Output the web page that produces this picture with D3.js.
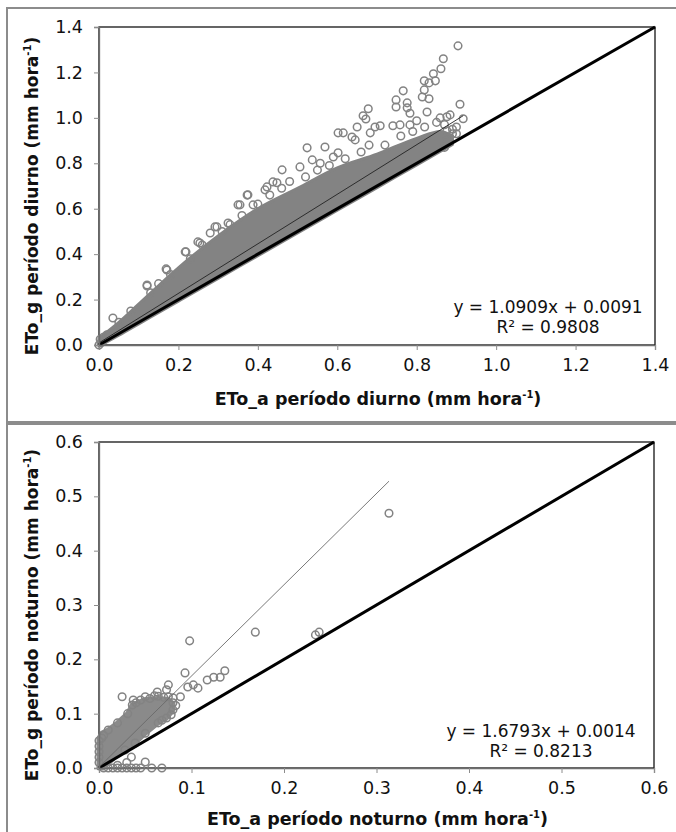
<!DOCTYPE html>
<html>
<head>
<meta charset="utf-8">
<script src="https://cdn.jsdelivr.net/npm/d3@7"></script>
<style>
  html, body { margin: 0; padding: 0; background: #fff; }
  svg { display: block; font-family: "DejaVu Sans", Verdana, sans-serif; }
</style>
</head>
<body>
<svg width="676" height="832"></svg>
<script>
// --- data ---
const dayTicks = [0, 0.2, 0.4, 0.6, 0.8, 1.0, 1.2, 1.4];
const nightTicks = [0, 0.1, 0.2, 0.3, 0.4, 0.5, 0.6];

// dense part of the day cloud (solid grey band)
const dayBandX    = [0,    0.05, 0.1,  0.2,  0.3,  0.4,  0.5,  0.6,  0.7,  0.8,  0.86, 0.89];
const dayBandLow  = [-0.005,0.043,0.093,0.193,0.293,0.393,0.493,0.593,0.693,0.793,0.853,0.883];
const dayBandHigh = [0.03, 0.10, 0.18, 0.34, 0.48, 0.60, 0.69, 0.78, 0.84, 0.91, 0.94, 0.92];

// single circles seen on the edge of / outside the day band
const dayPtsX = [0.904,0.867,0.861,0.842,0.847,0.819,0.831,0.819,0.814,0.831,0.766,0.748,0.748,0.776,0.776,
  0.678,0.665,0.672,0.65,0.615,0.602,0.909,0.917,0.876,0.884,0.826,0.783,0.80,0.708,0.695,0.74,0.758,0.783,
  0.645,0.637,0.683,0.859,0.524,0.569,0.602,0.461,0.506,0.537,0.557,0.373,0.438,0.423,0.59,0.355,0.388,
  0.28,0.297,0.254,0.217,0.171,0.121,0.035,0.375,0.35,0.325,0.292,0.249,0.219,0.169,0.121,0.418,0.448,
  0.876,0.876,0.9,0.89,0.88,0,0.005,0.01,0.003,0.012,0.02,
  0.05,0.08,0.13,0.15,0.18,0.23,0.26,0.31,0.33,0.36,0.40,0.43,0.46,0.48,0.52,0.55,0.58,0.62,0.66,0.68,
  0.72,0.76,0.79,0.82,0.85,0.87,0.89,0.90, 0.87];
const dayPtsY = [1.317,1.26,1.216,1.194,1.163,1.163,1.154,1.123,1.092,1.084,1.119,1.079,1.048,1.066,1.044,
  1.04,1.009,0.995,0.96,0.934,0.846,1.06,0.996,1.005,1.013,1.026,1.02,0.987,0.965,0.96,0.965,0.969,0.969,
  0.903,0.916,0.934,1.0,0.868,0.872,0.934,0.771,0.784,0.815,0.80,0.66,0.718,0.696,0.828,0.617,0.617,
  0.493,0.52,0.449,0.41,0.33,0.264,0.119,0.661,0.617,0.537,0.52,0.454,0.41,0.335,0.26,0.683,0.714,
  0.943,0.903,0.96,0.93,0.90,0,0.01,0.02,0.025,0.035,0.045,
  0.10,0.15,0.23,0.27,0.31,0.38,0.44,0.50,0.53,0.57,0.62,0.66,0.69,0.72,0.74,0.77,0.79,0.82,0.85,0.88,
  0.88,0.92,0.94,0.96,0.98,0.97,0.95,0.93, 0.87];

// dense part of the night cloud (outline of the blob near the origin)
const nightBlobX = [0, 0,     0.003, 0.01, 0.02,  0.031, 0.036, 0.05,  0.064, 0.075, 0.08,  0.08,  0.073, 0.064, 0.05,  0.039, 0.028, 0.017, 0.01,  0.004];
const nightBlobY = [0, 0.055, 0.064, 0.07, 0.083, 0.10,  0.116, 0.126, 0.128, 0.126, 0.118, 0.107, 0.092, 0.083, 0.064, 0.046, 0.033, 0.02,  0.009, 0];

// single circles of the night cloud
const nightPtsX = [0.098,0.169,0.234,0.238,0.093,0.136,0.131,0.124,0.117,0.107,0.102,0.096,0.075,0.025,0.088,
  0.08,0.073,0.063,0.037,0.068,0.035,0.05,0.057,0.068,0.3135,
  0,0,0,0,0,0.003,0.005,0.005,0.01,0.015,0.02,0.025,0.03,0.035,0.04,0.045,0.03,0.02,
  0.01,0.02,0.031,0.036,0.04,0.045,0.05,0.055,0.06,0.064,0.07,0.075,0.08,0.08,0.073,0.064,0.05,0.039,0.028,0.083,0.078];
const nightPtsY = [0.234,0.25,0.245,0.25,0.175,0.179,0.167,0.167,0.162,0.147,0.153,0.149,0.153,0.131,0.131,
  0.129,0.144,0.14,0.125,0.088,0.02,0.011,0,0,0.469,
  0.01,0.02,0.03,0.04,0.05,0.055,0.06,0,0,0,0,0,0,0,0,0,0.01,0.005,
  0.07,0.083,0.10,0.116,0.12,0.125,0.131,0.128,0.133,0.132,0.13,0.131,0.12,0.107,0.092,0.083,0.064,0.046,0.033,0.115,0.098];

const dayFit = [1.0909, 0.0091, 0.9808, 0.917];   // slope, intercept, R², last x
const nightFit = [1.6793, 0.0014, 0.8213, 0.3135];

const svg = d3.select("svg");

// outer panel frames
svg.append("rect").attr("x", 7).attr("y", 8).attr("width", 690).attr("height", 414)
  .attr("fill", "#fff").attr("stroke", "#8c8c8c").attr("stroke-width", 2);
svg.append("rect").attr("x", 7).attr("y", 424).attr("width", 690).attr("height", 430)
  .attr("fill", "#fff").attr("stroke", "#8c8c8c").attr("stroke-width", 2);

function drawPanel(cfg) {
  const x = d3.scaleLinear().domain([0, cfg.max]).range([cfg.left, cfg.right]);
  const y = d3.scaleLinear().domain([0, cfg.max]).range([cfg.bottom, cfg.top]);
  const g = svg.append("g");

  // plot frame
  g.append("rect").attr("x", cfg.left).attr("y", cfg.top)
    .attr("width", cfg.right - cfg.left).attr("height", cfg.bottom - cfg.top)
    .attr("fill", "none").attr("stroke", "#000").attr("stroke-width", 1.2);

  // dense cloud
  if (cfg.band) {
    const rows = cfg.band.x.map((v, i) => ({ x: v, lo: cfg.band.lo[i], hi: cfg.band.hi[i] }));
    g.append("path").datum(rows)
      .attr("d", d3.area().x(d => x(d.x)).y0(d => y(d.lo)).y1(d => y(d.hi)).curve(d3.curveMonotoneX))
      .attr("fill", "#838383").attr("stroke", "#838383").attr("stroke-width", 3).attr("stroke-linejoin", "round");
  }
  if (cfg.blob) {
    const pts = cfg.blob.x.map((v, i) => [x(v), y(cfg.blob.y[i])]);
    g.append("path").attr("d", d3.line().curve(d3.curveLinearClosed)(pts))
      .attr("fill", "#8a8a8a").attr("stroke", "#8a8a8a").attr("stroke-width", 5).attr("stroke-linejoin", "round");
  }

  // single circles
  const pts = cfg.ptsX.map((v, i) => ({ x: v, y: cfg.ptsY[i] }));
  g.append("g").selectAll("circle").data(pts).join("circle")
    .attr("cx", d => x(d.x)).attr("cy", d => y(d.y)).attr("r", 3.8)
    .attr("fill", "none").attr("stroke", "#838383").attr("stroke-width", 1.5);

  // 1:1 line
  g.append("line")
    .attr("x1", x(0)).attr("y1", y(0)).attr("x2", x(cfg.max)).attr("y2", y(cfg.max))
    .attr("stroke", "#000").attr("stroke-width", 3);

  // trend line
  const [a, b, r2, xEnd] = cfg.fit;
  g.append("line")
    .attr("x1", x(0)).attr("y1", y(b)).attr("x2", x(xEnd)).attr("y2", y(a * xEnd + b))
    .attr("stroke", cfg.fitColor).attr("stroke-width", 0.9);

  // axes
  const fmt = d3.format(".1f");
  const xa = g.append("g").attr("transform", `translate(0,${cfg.bottom})`)
    .call(d3.axisBottom(x).tickValues(cfg.ticks).tickFormat(fmt).tickSize(5).tickPadding(9));
  const ya = g.append("g").attr("transform", `translate(${cfg.left},0)`)
    .call(d3.axisLeft(y).tickValues(cfg.ticks).tickFormat(fmt).tickSize(5).tickPadding(11));
  [xa, ya].forEach(ax => {
    ax.select(".domain").attr("stroke", "#6e6e6e").attr("stroke-width", 1.3);
    ax.selectAll(".tick line").attr("stroke", "#8c8c8c");
    ax.selectAll("text").attr("font-size", 17.5).attr("fill", "#111")
      .attr("font-family", "'DejaVu Sans', Verdana, sans-serif");
  });

  // axis titles
  const xt = g.append("text").attr("x", (cfg.left + cfg.right) / 2 + 1).attr("y", cfg.bottom + cfg.titleGap)
    .attr("text-anchor", "middle").attr("font-size", 17.5).attr("font-weight", "bold").attr("fill", "#111");
  xt.append("tspan").text(cfg.xTitle + " (mm hora");
  xt.append("tspan").attr("font-size", 10).attr("dy", -7).text("-1");
  xt.append("tspan").attr("dy", 7).text(")");

  const cy = (cfg.top + cfg.bottom) / 2 + 10;
  const yt = g.append("text").attr("transform", `translate(38,${cy}) rotate(-90)`)
    .attr("text-anchor", "middle").attr("font-size", 17).attr("font-weight", "bold").attr("fill", "#111");
  yt.append("tspan").text(cfg.yTitle + " (mm hora");
  yt.append("tspan").attr("font-size", 10).attr("dy", -7).text("-1");
  yt.append("tspan").attr("dy", 7).text(")");

  // equation
  const eq = g.append("text").attr("font-size", 17).attr("fill", "#111").attr("text-anchor", "middle");
  eq.append("tspan").attr("x", cfg.eqX).attr("y", cfg.eqY)
    .text(`y = ${a.toFixed(4)}x + ${b.toFixed(4)}`);
  eq.append("tspan").attr("x", cfg.eqX).attr("y", cfg.eqY + 20)
    .text(`R² = ${r2.toFixed(4)}`);
}

drawPanel({
  max: 1.4, left: 99, right: 655, top: 27, bottom: 345, ticks: dayTicks,
  band: { x: dayBandX, lo: dayBandLow, hi: dayBandHigh },
  ptsX: dayPtsX, ptsY: dayPtsY, fit: dayFit, fitColor: "#222",
  xTitle: "ETo_a período diurno", yTitle: "ETo_g período diurno",
  eqX: 548, eqY: 313, titleGap: 60
});

drawPanel({
  max: 0.6, left: 99, right: 654, top: 442, bottom: 768, ticks: nightTicks,
  blob: { x: nightBlobX, y: nightBlobY },
  ptsX: nightPtsX, ptsY: nightPtsY, fit: nightFit, fitColor: "#6a6a6a",
  xTitle: "ETo_a período noturno", yTitle: "ETo_g período noturno",
  eqX: 541, eqY: 737, titleGap: 57
});
</script>
</body>
</html>
